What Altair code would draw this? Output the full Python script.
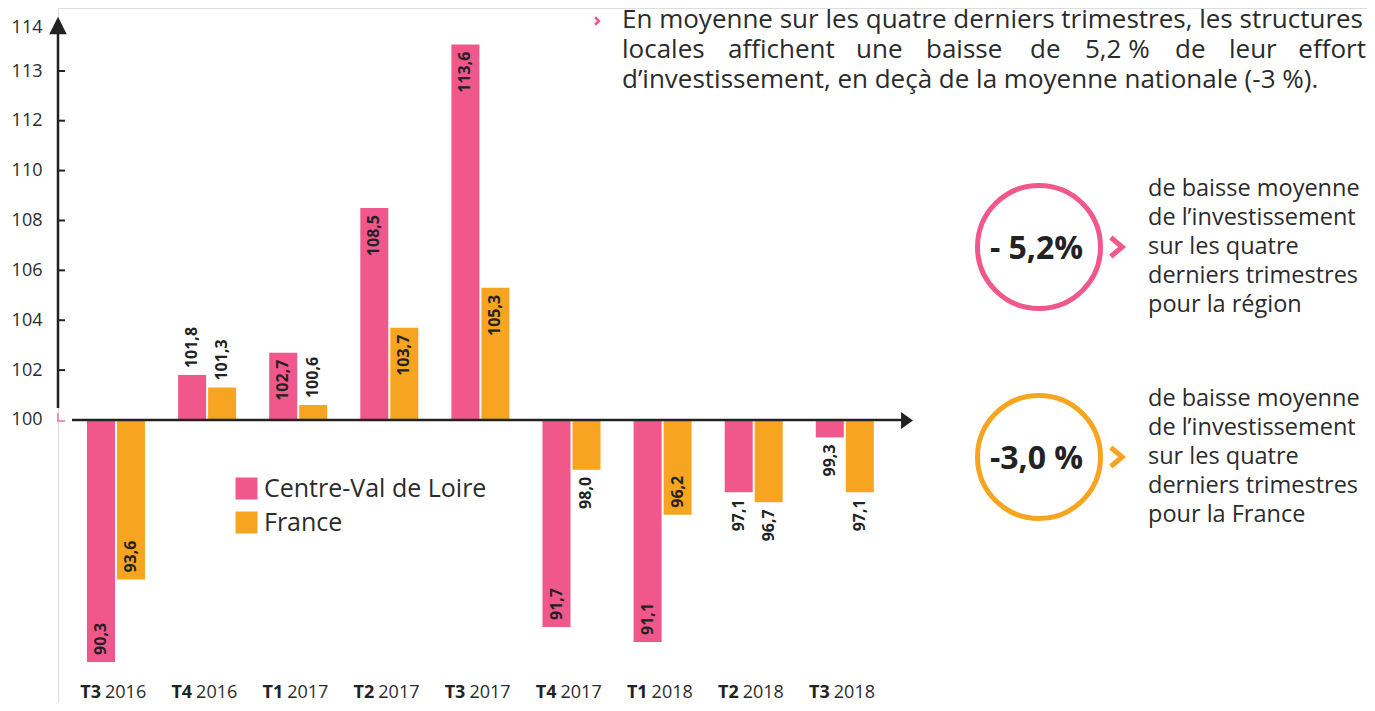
import altair as alt
import pandas as pd

# ---------------- data ----------------
quarter_codes = ["T3", "T4", "T1", "T2", "T3", "T4", "T1", "T2", "T3"]
quarter_years = ["2016", "2016", "2017", "2017", "2017", "2017", "2018", "2018", "2018"]
categories = [f"{q} {y}" for q, y in zip(quarter_codes, quarter_years)]
series_names = ["Centre-Val de Loire", "France"]
centre_values = [90.3, 101.8, 102.7, 108.5, 113.6, 91.7, 91.1, 97.1, 99.3]
france_values = [93.6, 101.3, 100.6, 103.7, 105.3, 98.0, 96.2, 96.7, 97.1]
centre_label_inside = [True, False, True, True, True, True, True, False, False]
france_label_inside = [True, False, False, True, True, False, True, False, False]
y_tick_values = [100, 102, 104, 106, 108, 110, 112, 113, 114]
y_small_ticks = [102, 104, 106, 108, 110, 112, 113]
base_value = 100

paragraph_line1 = "En moyenne sur les quatre derniers trimestres, les structures"
paragraph_line2_words = ["locales", "affichent", "une", "baisse", "de", "5,2 %", "de", "leur", "effort"]
paragraph_line3 = "d’investissement, en deçà de la moyenne nationale (-3 %)."
region_kpi = "- 5,2%"
france_kpi = "-3,0 %"
region_desc = ["de baisse moyenne", "de l’investissement", "sur les quatre",
               "derniers trimestres", "pour la région"]
france_desc = ["de baisse moyenne", "de l’investissement", "sur les quatre",
               "derniers trimestres", "pour la France"]

# ---------------- style / layout ----------------
FONT = "Open Sans"
PINK = "#F0588C"
ORANGE = "#F7A520"
DARK = "#222222"
TXT = "#2b2b2b"
PINK_LIGHT = "#F48DB2"

X0, Y0 = 58, 8          # page position of the plot origin
def px(X): return X - X0
def py(Y): return Y - Y0

# start positions of the justified second paragraph line (last word right-aligned)
line2_word_x = [622, 728, 856, 926, 1030, 1085, 1175, 1229, 1366]

rows = []
for i, c in enumerate(categories):
    for s, vals, ins in ((series_names[0], centre_values, centre_label_inside),
                         (series_names[1], france_values, france_label_inside)):
        v = vals[i]
        rows.append({
            "category": c, "series": s, "value": v,
            "label": f"{v:.1f}".replace(".", ","),
            "align_right": bool((v > base_value) == ins[i]),
        })
df = pd.DataFrame(rows)
one = pd.DataFrame({"k": [0]})

x_enc = alt.X("category:N", sort=categories,
              scale=alt.Scale(domain=categories, range=[px(70.45), px(890.35)],
                              paddingInner=0, paddingOuter=0),
              axis=None)
xoff_enc = alt.XOffset("series:N", sort=series_names,
                       scale=alt.Scale(domain=series_names, paddingInner=0.0667,
                                       paddingOuter=0.5517))
y_scale = alt.Scale(domain=[90, 112, 113, 114],
                    range=[py(669.4), py(120.7), py(71), py(27)],
                    zero=False, nice=False)
y_enc = alt.Y("value:Q", scale=y_scale, title=None,
              axis=alt.Axis(values=y_tick_values, domain=False, ticks=False, tickSize=0,
                            grid=False, labelPadding=16, labelFontSize=18,
                            labelColor=TXT, labelFont=FONT, labelFlush=False,
                            labelOverlap=False, title=None))

bars = alt.Chart(df).mark_bar().encode(
    x=x_enc, xOffset=xoff_enc, y=y_enc, y2=alt.datum(base_value),
    color=alt.Color("series:N", sort=series_names,
                    scale=alt.Scale(domain=series_names, range=[PINK, ORANGE]),
                    legend=alt.Legend(orient="none", legendX=px(234), legendY=py(476),
                                      title=None, direction="vertical",
                                      symbolType="square", symbolSize=484,
                                      symbolStrokeWidth=0, symbolOpacity=1,
                                      labelFontSize=25, labelFont=FONT, labelColor=TXT,
                                      labelLimit=400,
                                      rowPadding=8, labelOffset=5, padding=0)),
)

lbl_common = dict(angle=270, baseline="middle", font=FONT, fontSize=16,
                  fontWeight="bold", color=DARK)
labels_r = alt.Chart(df).transform_filter("datum.align_right").mark_text(
    align="right", dx=-7, **lbl_common).encode(x=x_enc, xOffset=xoff_enc, y=y_enc, text="label:N")
labels_l = alt.Chart(df).transform_filter("!datum.align_right").mark_text(
    align="left", dx=7, **lbl_common).encode(x=x_enc, xOffset=xoff_enc, y=y_enc, text="label:N")

cat_df = pd.DataFrame({"category": categories, "code": quarter_codes, "year": quarter_years})
code_text = alt.Chart(cat_df).mark_text(
    align="right", baseline="alphabetic", dx=-15, font=FONT, fontSize=18,
    fontWeight="bold", color=DARK).encode(x=x_enc, y=alt.value(py(698)), text="code:N")
year_text = alt.Chart(cat_df).mark_text(
    align="left", baseline="alphabetic", dx=-11, font=FONT, fontSize=18,
    color=TXT).encode(x=x_enc, y=alt.value(py(698)), text="year:N")

# axes drawn by hand
x_axis_line = alt.Chart(pd.DataFrame({"value": [base_value]})).mark_rule(
    strokeWidth=2.5, color=DARK).encode(x=alt.value(px(72)), x2=alt.value(px(903)), y=y_enc)
x_arrow = alt.Chart(one).mark_point(
    shape="M-0.7,-1L0.7,0L-0.7,1Z", size=289, filled=True, opacity=1, color=DARK,
    strokeWidth=0).encode(x=alt.value(px(907)), y=alt.value(py(420.5)))
y_axis_line = alt.Chart(one).mark_rule(strokeWidth=2.5, color=DARK).encode(
    x=alt.value(0), y=alt.value(py(34)), y2=alt.value(py(408)))
y_arrow = alt.Chart(one).mark_point(
    shape="M0,-1L1,1L-1,1Z", size=306, filled=True, opacity=1, color=DARK,
    strokeWidth=0).encode(x=alt.value(0), y=alt.value(py(25.5)))
y_ticks = alt.Chart(pd.DataFrame({"value": y_small_ticks})).mark_rule(
    strokeWidth=2, color=DARK).encode(x=alt.value(0), x2=alt.value(7), y=y_enc)
corner_v = alt.Chart(one).mark_rule(strokeWidth=2, color=PINK_LIGHT).encode(
    x=alt.value(0), y=alt.value(py(413)), y2=alt.value(py(421)))
corner_h = alt.Chart(one).mark_rule(strokeWidth=2, color=PINK_LIGHT).encode(
    x=alt.value(-1), x2=alt.value(7), y=alt.value(py(421)))

# paragraph top right
para_font = dict(font=FONT, fontSize=26, color=TXT, baseline="alphabetic")
chev_small = alt.Chart(one).mark_point(
    shape="M-0.5,-1L0.5,0L-0.5,1", size=56, filled=False, opacity=1, color=PINK,
    strokeWidth=2.5).encode(x=alt.value(px(597)), y=alt.value(py(21)))
p1 = alt.Chart(one).mark_text(align="left", **para_font).encode(
    x=alt.value(px(622)), y=alt.value(py(28)), text=alt.value(paragraph_line1))
p3 = alt.Chart(one).mark_text(align="left", **para_font).encode(
    x=alt.value(px(622)), y=alt.value(py(88)), text=alt.value(paragraph_line3))
p2_layers = []
for j, (w, wx) in enumerate(zip(paragraph_line2_words, line2_word_x)):
    last = j == len(paragraph_line2_words) - 1
    p2_layers.append(alt.Chart(one).mark_text(align="right" if last else "left", **para_font).encode(
        x=alt.value(px(wx)), y=alt.value(py(58)), text=alt.value(w)))

# KPI circles
def kpi(cy_page, color, kpi_text, desc, first_baseline):
    ring = alt.Chart(one).mark_point(
        shape="circle", size=15129, filled=False, opacity=1, color=color,
        strokeWidth=5).encode(x=alt.value(px(1039)), y=alt.value(py(cy_page)))
    num = alt.Chart(one).mark_text(
        align="center", baseline="alphabetic", font=FONT, fontSize=32,
        fontWeight="bold", color=DARK).encode(
        x=alt.value(px(1036.5)), y=alt.value(py(cy_page + 12)), text=alt.value(kpi_text))
    chev = alt.Chart(one).mark_point(
        shape="M-0.6,-1L0.6,0L-0.6,1", size=361, filled=False, opacity=1, color=color,
        strokeWidth=5).encode(x=alt.value(px(1116.5)), y=alt.value(py(cy_page)))
    txt = alt.Chart(one).mark_text(
        align="left", baseline="alphabetic", font=FONT, fontSize=23.5, color=TXT,
        lineBreak="\n", lineHeight=29).encode(
        x=alt.value(px(1148)), y=alt.value(py(first_baseline)), text=alt.value("\n".join(desc)))
    return [ring, num, chev, txt]

kpi_layers = kpi(247, PINK, region_kpi, region_desc, 196) + kpi(457, ORANGE, france_kpi, france_desc, 406)

chart = alt.layer(
    bars, labels_r, labels_l, code_text, year_text,
    x_axis_line, x_arrow, y_axis_line, y_arrow, y_ticks, corner_v, corner_h,
    chev_small, p1, p3, *p2_layers, *kpi_layers,
).properties(
    width=1309, height=695,
    padding={"left": 50, "top": 0, "right": 0, "bottom": 0},
    autosize=alt.AutoSizeParams(type="none"),
).configure_view(stroke=None).configure(background="white")

chart.save("out.html", embed_options={"renderer": "svg", "actions": False})
